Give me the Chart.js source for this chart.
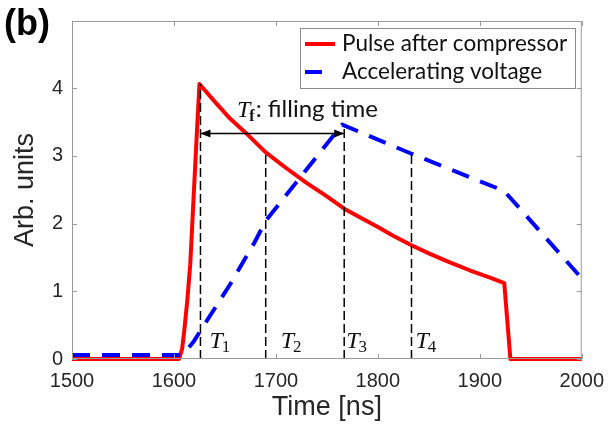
<!DOCTYPE html>
<html><head><meta charset="utf-8">
<script src="https://cdn.jsdelivr.net/npm/chart.js@4/dist/chart.umd.min.js"></script>
<style>html,body{margin:0;padding:0;background:#fff;} #c{display:block;}</style>
</head><body>
<canvas id="c" width="614" height="427"></canvas>
<script>
// ---- data ----
const pulseTime  = [1500,1605,1608,1610,1613,1616,1619,1622,1625,1640,1655,1671,1690,1710,1730,1750,1767,1785,1800,1815,1833,1850,1870,1890,1910,1924,1930,2000];
const pulseValue = [0,0,0.15,0.4,0.85,1.4,2.3,3.2,4.06,3.80,3.55,3.33,3.05,2.82,2.60,2.40,2.22,2.07,1.95,1.82,1.68,1.56,1.43,1.31,1.20,1.12,0,0];
const voltTime   = [1500,1605,1610,1614,1619,1624,1655,1679,1690,1765,1833,1924,2000];
const voltValue  = [0.06,0.06,0.09,0.16,0.25,0.37,1.1,1.72,2.04,3.46,3.03,2.48,1.19];
const markerTimes = [1626,1690,1767,1833];
const markerTops  = [4.06,3.03,3.43,3.03];
const markerSubs  = ['1','2','3','4'];
const fillingStart = 1626, fillingEnd = 1767, fillingLevel = 3.33;
const xTicks = [1500,1600,1700,1800,1900,2000];
const yTicks = [0,1,2,3,4];
const seriesNames = ['Pulse after compressor','Accelerating voltage'];

// ---- styles ----
const RED = '#ff0000', BLUE = '#0000ff', AXIS = '#9a9a9a', TXT = '#262626';
const markerLabelOffset = [9, 15, 2, 4];

const pts = (xs, ys) => xs.map((x,i)=>({x, y: ys[i]}));
const datasets = [
  {label: seriesNames[0], data: pts(pulseTime,pulseValue), borderColor: RED, borderWidth: 4, order: 3},
  {label: seriesNames[1], data: pts(voltTime,voltValue), borderColor: BLUE, borderWidth: 4, borderDash:[18,12], order: 2},
];
markerTimes.forEach((t,i)=>{
  datasets.push({label:'T'+markerSubs[i], data:[{x:t,y:0},{x:t,y:markerTops[i]}], borderColor:'#000', borderWidth:1.5, borderDash:[9,4], order:1});
});
datasets.push({label:'Tf', data:[{x:fillingStart,y:fillingLevel},{x:fillingEnd,y:fillingLevel}], borderColor:'#000', borderWidth:1.5, order:0});
datasets.forEach(d=>{d.pointRadius=0; d.fill=false; d.tension=0; d.clip=false; d.borderCapStyle='butt'; d.borderJoinStyle='round';});

function fitFont(ctx, text, family, weight, target){
  ctx.font = weight+' 20px '+family;
  const w = ctx.measureText(text).width;
  return 20*target/w;
}

const deco = {
  id:'deco',
  afterDraw(chart){
    const ctx = chart.ctx, xs = chart.scales.x, ys = chart.scales.y, a = chart.chartArea;
    ctx.save();
    // box
    ctx.strokeStyle = AXIS; ctx.lineWidth = 1;
    ctx.strokeRect(a.left+0.5, a.top+0.5, a.right-a.left-1, a.bottom-a.top-1);
    ctx.beginPath();
    xTicks.forEach(v=>{const x=Math.round(xs.getPixelForValue(v))+0.5; ctx.moveTo(x,a.bottom); ctx.lineTo(x,a.bottom-5); ctx.moveTo(x,a.top); ctx.lineTo(x,a.top+5);});
    yTicks.forEach(v=>{const y=Math.round(ys.getPixelForValue(v))+0.5; ctx.moveTo(a.left,y); ctx.lineTo(a.left+5,y); ctx.moveTo(a.right,y); ctx.lineTo(a.right-5,y);});
    ctx.stroke();

    // arrowheads of filling time
    const ay = ys.getPixelForValue(fillingLevel);
    const ax1 = xs.getPixelForValue(fillingStart), ax2 = xs.getPixelForValue(fillingEnd);
    ctx.fillStyle = '#000';
    ctx.beginPath(); ctx.moveTo(ax1,ay); ctx.lineTo(ax1+10,ay-4); ctx.lineTo(ax1+10,ay+4); ctx.closePath(); ctx.fill();
    ctx.beginPath(); ctx.moveTo(ax2,ay); ctx.lineTo(ax2-10,ay-4); ctx.lineTo(ax2-10,ay+4); ctx.closePath(); ctx.fill();

    // Tf label
    ctx.fillStyle = '#111'; ctx.textBaseline = 'alphabetic'; ctx.textAlign = 'left';
    let tx = 237; const tb = 117;
    ctx.font = 'italic 24px "Liberation Serif", "DejaVu Serif", serif';
    ctx.fillText('T', tx, tb); tx += ctx.measureText('T').width - 1;
    ctx.font = 'bold 16px "Liberation Serif", "DejaVu Serif", serif';
    ctx.fillText('f', tx, tb+4); tx += ctx.measureText('f').width + 1;
    const s = fitFont(ctx, ': filling time', 'Lato, "Open Sans", sans-serif', 'normal', 378-tx);
    ctx.font = 'normal '+s.toFixed(1)+'px Lato, "Open Sans", sans-serif';
    ctx.fillText(': filling time', tx, tb);

    // T labels
    const by = ys.getPixelForValue(0) - 11;
    markerTimes.forEach((t,i)=>{
      let x = xs.getPixelForValue(t) + markerLabelOffset[i];
      ctx.font = 'italic 24px "Liberation Serif", "DejaVu Serif", serif';
      ctx.fillText('T', x, by); x += ctx.measureText('T').width - 1;
      ctx.font = '17px "Liberation Serif", "DejaVu Serif", serif';
      ctx.fillText(markerSubs[i], x, by+4);
    });

    // legend
    ctx.fillStyle = '#fff'; ctx.strokeStyle = '#8c8c8c'; ctx.lineWidth = 1;
    ctx.fillRect(300.5, 28.5, 275, 60); ctx.strokeRect(300.5, 28.5, 275, 60);
    ctx.lineWidth = 4; ctx.lineCap = 'butt';
    ctx.strokeStyle = RED; ctx.beginPath(); ctx.moveTo(305,44); ctx.lineTo(335,44); ctx.stroke();
    ctx.strokeStyle = BLUE; ctx.beginPath(); ctx.moveTo(305,72); ctx.lineTo(322,72); ctx.stroke();
    ctx.fillStyle = '#111'; ctx.textBaseline = 'middle';
    const ls = fitFont(ctx, seriesNames[0], 'Lato, "Open Sans", sans-serif', 'normal', 225);
    ctx.font = 'normal '+ls.toFixed(1)+'px Lato, "Open Sans", sans-serif';
    ctx.fillText(seriesNames[0], 342, 44);
    ctx.fillText(seriesNames[1], 342, 72);

    // axis titles
    ctx.fillStyle = TXT; ctx.textAlign = 'center'; ctx.textBaseline = 'middle';
    ctx.font = '27px "Liberation Sans", Arial, sans-serif';
    ctx.fillText('Time [ns]', (a.left+a.right)/2, 408);
    ctx.save(); ctx.translate(26, (a.top+a.bottom)/2); ctx.rotate(-Math.PI/2);
    ctx.fillText('Arb. units', 0, 0); ctx.restore();
    // panel label
    ctx.fillStyle = '#000'; ctx.textAlign = 'left'; ctx.textBaseline = 'alphabetic';
    ctx.font = 'bold 36px "Liberation Sans", Arial, sans-serif';
    ctx.fillText('(b)', 4, 35);
    ctx.restore();
  }
};

new Chart(document.getElementById('c'), {
  type: 'line',
  data: {datasets},
  options: {
    responsive: false, animation: false, devicePixelRatio: 1,
    layout: {padding: {left:0, right:26, top:15, bottom:0}},
    plugins: {legend:{display:false}, tooltip:{enabled:false}},
    scales: {
      x: {type:'linear', min:1500, max:2000,
          afterBuildTicks: s => { s.ticks = xTicks.map(v=>({value:v})); },
          afterFit: s => { s.height = 68; },
          grid:{display:false, drawTicks:false}, border:{display:false},
          ticks:{padding:10, color:TXT, callback: v => String(v), font:{family:'"Liberation Sans", Arial, sans-serif', size:20}, maxRotation:0, autoSkip:false}},
      y: {type:'linear', min:0, max:4.99,
          afterBuildTicks: s => { s.ticks = yTicks.map(v=>({value:v})); },
          afterFit: s => { s.width = 72; },
          grid:{display:false, drawTicks:false}, border:{display:false},
          ticks:{padding:9, color:TXT, callback: v => String(v), font:{family:'"Liberation Sans", Arial, sans-serif', size:20}}}
    }
  },
  plugins: [deco]
});
</script>
</body></html>
